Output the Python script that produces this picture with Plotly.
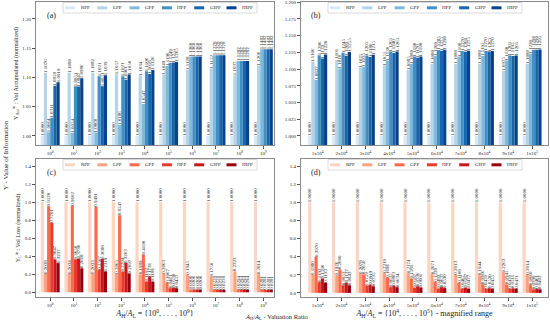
import plotly.graph_objects as go

W, H = 550, 321
FONT = "Liberation Serif"

methods = ["RPP", "LPP", "GPP", "HPP", "GIPP", "HIPP"]
blues = ["#d9e8f5", "#b3d3e8", "#7fb8da", "#4190c5", "#1a64ab", "#08438a"]
reds = ["#fdd4c2", "#fca082", "#fb6b4b", "#ed392b", "#c9181d", "#99000d"]

# tick labels (categories)
cats_full = ["10<sup>0</sup>", "10<sup>1</sup>", "10<sup>2</sup>", "10<sup>3</sup>", "10<sup>4</sup>",
             "10<sup>5</sup>", "10<sup>6</sup>", "10<sup>7</sup>", "10<sup>8</sup>", "10<sup>9</sup>"]
cats_mag = ["1x10<sup>4</sup>", "2x10<sup>4</sup>", "3x10<sup>4</sup>", "4x10<sup>4</sup>", "5x10<sup>4</sup>",
            "6x10<sup>4</sup>", "7x10<sup>4</sup>", "8x10<sup>4</sup>", "9x10<sup>4</sup>", "1x10<sup>5</sup>"]

# (a) accumulated volume, full range
acc_full_RPP = [1.0000, 1.0000, 1.0000, 1.0000, 1.0000, 1.0000, 1.0000, 1.0000, 1.0000, 1.0000]
acc_full_LPP = [1.1076, 1.1080, 1.1082, 1.1057, 1.1034, 1.1049, 1.1128, 1.1152, 1.1037, 1.1206]
acc_full_GPP = [1.0064, 1.0054, 1.0060, 1.0186, 1.0547, 1.1196, 1.1360, 1.1378, 1.1282, 1.1482]
acc_full_HPP = [1.0311, 1.0851, 1.1021, 1.1021, 1.1106, 1.1249, 1.1360, 1.1378, 1.1282, 1.1482]
acc_full_GIPP = [1.0858, 1.0847, 1.0851, 1.0961, 1.1058, 1.1255, 1.1360, 1.1378, 1.1282, 1.1482]
acc_full_HIPP = [1.0919, 1.0986, 1.1039, 1.1050, 1.1126, 1.1265, 1.1360, 1.1378, 1.1282, 1.1482]

# (b) accumulated volume, magnified range
acc_mag_RPP = [1.0000, 1.0000, 1.0000, 1.0000, 1.0000, 1.0000, 1.0000, 1.0000, 1.0000, 1.0000]
acc_mag_LPP = [1.1106, 1.1101, 1.1025, 1.1055, 1.0985, 1.1080, 1.1080, 1.1080, 1.0975, 1.1080]
acc_mag_GPP = [1.0837, 1.1010, 1.1035, 1.1130, 1.1080, 1.1200, 1.1190, 1.1195, 1.1130, 1.1230]
acc_mag_HPP = [1.1206, 1.1245, 1.1205, 1.1265, 1.1190, 1.1285, 1.1270, 1.1270, 1.1205, 1.1290]
acc_mag_GIPP = [1.1159, 1.1200, 1.1180, 1.1240, 1.1170, 1.1275, 1.1260, 1.1265, 1.1195, 1.1290]
acc_mag_HIPP = [1.1220, 1.1255, 1.1215, 1.1265, 1.1190, 1.1290, 1.1275, 1.1270, 1.1205, 1.1295]

# (c) lost volume, full range
loss_full_RPP = [1.0000, 1.0000, 1.0000, 1.0000, 1.0000, 1.0000, 1.0000, 1.0000, 1.0000, 1.0000]
loss_full_LPP = [0.2038, 0.2034, 0.2033, 0.2065, 0.1989, 0.2063, 0.1945, 0.1750, 0.2323, 0.2014]
loss_full_GPP = [0.9520, 0.9602, 0.9491, 0.8547, 0.4190, 0.1067, 0.0306, 0.0278, 0.0294, 0.0281]
loss_full_HPP = [0.7701, 0.3650, 0.2507, 0.2294, 0.1192, 0.0461, 0.0306, 0.0278, 0.0294, 0.0281]
loss_full_GIPP = [0.3647, 0.3736, 0.3688, 0.3263, 0.1736, 0.0530, 0.0306, 0.0278, 0.0294, 0.0281]
loss_full_HIPP = [0.3237, 0.2668, 0.2319, 0.2097, 0.1186, 0.0457, 0.0306, 0.0278, 0.0294, 0.0281]

# (d) lost volume, magnified range
loss_mag_RPP = [1.0000, 1.0000, 1.0000, 1.0000, 1.0000, 1.0000, 1.0000, 1.0000, 1.0000, 1.0000]
loss_mag_LPP = [0.1980, 0.1926, 0.2078, 0.2219, 0.2174, 0.2071, 0.2013, 0.1944, 0.2263, 0.2014]
loss_mag_GPP = [0.3970, 0.2600, 0.2050, 0.1686, 0.1581, 0.1220, 0.1108, 0.0966, 0.0945, 0.0860]
loss_mag_HPP = [0.1192, 0.0853, 0.0759, 0.0635, 0.0587, 0.0483, 0.0467, 0.0450, 0.0450, 0.0398]
loss_mag_GIPP = [0.1596, 0.1137, 0.0919, 0.0803, 0.0736, 0.0637, 0.0587, 0.0530, 0.0511, 0.0461]
loss_mag_HIPP = [0.1133, 0.0843, 0.0735, 0.0634, 0.0601, 0.0530, 0.0477, 0.0455, 0.0471, 0.0402]


def px(x):
    return x / W


def py(y):
    return 1 - y / H


panels = [
    dict(tag="(a)", xa="x", ya="y", cats=cats_full, colors=blues,
         series=[acc_full_RPP, acc_full_LPP, acc_full_GPP, acc_full_HPP, acc_full_GIPP, acc_full_HIPP],
         xd=(36, 274), yd=(2, 145)),
    dict(tag="(b)", xa="x2", ya="y2", cats=cats_mag, colors=blues,
         series=[acc_mag_RPP, acc_mag_LPP, acc_mag_GPP, acc_mag_HPP, acc_mag_GIPP, acc_mag_HIPP],
         xd=(301, 548), yd=(2, 145)),
    dict(tag="(c)", xa="x3", ya="y3", cats=cats_full, colors=reds,
         series=[loss_full_RPP, loss_full_LPP, loss_full_GPP, loss_full_HPP, loss_full_GIPP, loss_full_HIPP],
         xd=(36, 274), yd=(159, 297)),
    dict(tag="(d)", xa="x4", ya="y4", cats=cats_mag, colors=reds,
         series=[loss_mag_RPP, loss_mag_LPP, loss_mag_GPP, loss_mag_HPP, loss_mag_GIPP, loss_mag_HIPP],
         xd=(301, 548), yd=(159, 297)),
]

fig = go.Figure()
shapes = []
annotations = []

for p in panels:
    for m, vals, col in zip(methods, p["series"], p["colors"]):
        fig.add_trace(go.Bar(
            x=p["cats"], y=vals, name=m, xaxis=p["xa"], yaxis=p["ya"],
            marker=dict(color=col, line=dict(width=0)),
            texttemplate="%{y:.4f}", textposition="outside", textangle=-90,
            textfont=dict(size=5, color="#222222", family=FONT),
            constraintext="none", cliponaxis=True, showlegend=False,
        ))
    x0, x1 = p["xd"]
    y0, y1 = p["yd"]
    # legend box drawn inside the top of each panel
    lx = x0 + 27
    shapes.append(dict(type="rect", xref="paper", yref="paper",
                       x0=px(lx), x1=px(lx + 194), y0=py(y0 + 11), y1=py(y0 + 0.5),
                       fillcolor="rgba(255,255,255,0.85)", line=dict(color="#d0d0d0", width=0.8),
                       layer="above"))
    for i, (m, col) in enumerate(zip(methods, p["colors"])):
        sx = x0 + 29 + i * 32.3
        shapes.append(dict(type="rect", xref="paper", yref="paper",
                           x0=px(sx), x1=px(sx + 10), y0=py(y0 + 7.3), y1=py(y0 + 4.3),
                           fillcolor=col, line=dict(width=0), layer="above"))
        annotations.append(dict(text=m, xref="paper", yref="paper", x=px(sx + 13.5), y=py(y0 + 5.8),
                                xanchor="left", yanchor="middle", showarrow=False,
                                font=dict(size=5, family=FONT, color="#222222")))
    annotations.append(dict(text=p["tag"], xref="paper", yref="paper", x=px(x0 + 15), y=py(y0 + 13.5),
                            xanchor="center", yanchor="middle", showarrow=False,
                            font=dict(size=8, family=FONT, color="#222222")))

axis_common = dict(showline=True, mirror=True, linecolor="#8a8a8a", linewidth=1,
                   ticks="outside", ticklen=3, tickcolor="#555555", tickwidth=0.8,
                   showgrid=False, zeroline=False, automargin=False,
                   tickfont=dict(size=5, family=FONT, color="#222222"))

lay = dict(
    width=W, height=H, margin=dict(l=0, r=0, t=0, b=0),
    paper_bgcolor="white", plot_bgcolor="white",
    barmode="group", bargap=0.2, bargroupgap=0.0,
    font=dict(family=FONT, color="#222222"),
    showlegend=False,
)

yt = dict(font=dict(size=6, family=FONT, color="#222222"), standoff=3)
xt = dict(font=dict(size=8, family=FONT, color="#222222"), standoff=3)

lay["xaxis"] = dict(axis_common, domain=[px(36), px(274)], anchor="y", type="category", range=[-0.6, 9.45])
lay["yaxis"] = dict(axis_common, domain=[py(145), py(2)], anchor="x", range=[0.9846, 1.229],
                    tick0=1.0, dtick=0.05, tickformat=".2f",
                    title=dict(yt, text="Y<sub>Acc</sub><sup>in</sup> : Vol Accumulated (normalized)"))
lay["xaxis2"] = dict(axis_common, domain=[px(301), px(548)], anchor="y2", type="category", range=[-0.7, 9.67])
lay["yaxis2"] = dict(axis_common, domain=[py(145), py(2)], anchor="x2", range=[0.9865, 1.2004],
                     tick0=1.0, dtick=0.025, tickformat=".3f")
lay["xaxis3"] = dict(axis_common, domain=[px(36), px(274)], anchor="y3", type="category", range=[-0.6, 9.45],
                     title=dict(xt, text="<i>A</i><sub>H</sub>/<i>A</i><sub>L</sub> = {10<sup>0</sup>, . . . , 10<sup>9</sup>}"))
lay["yaxis3"] = dict(axis_common, domain=[py(297), py(159)], anchor="x3", range=[-0.052, 1.478],
                     tick0=0, dtick=0.2, tickformat=".1f",
                     title=dict(yt, text="Y<sub>L</sub><sup>in</sup> : Vol Loss (normalized)"))
lay["xaxis4"] = dict(axis_common, domain=[px(301), px(548)], anchor="y4", type="category", range=[-0.7, 9.67],
                     title=dict(xt, text="<i>A</i><sub>H</sub>/<i>A</i><sub>L</sub> = {10<sup>4</sup>, . . . , 10<sup>5</sup>} - magnified range"))
lay["yaxis4"] = dict(axis_common, domain=[py(297), py(159)], anchor="x4", range=[-0.045, 1.478],
                     tick0=0, dtick=0.2, tickformat=".1f")

annotations.append(dict(text="Y - Value of Information", xref="paper", yref="paper",
                        x=px(6), y=py(155), textangle=-90, showarrow=False,
                        xanchor="center", yanchor="middle",
                        font=dict(size=7, family=FONT, color="#222222")))
annotations.append(dict(text="<i>A</i><sub>H</sub>/<i>A</i><sub>L</sub> - Valuation Ratio", xref="paper", yref="paper",
                        x=px(276), y=py(316.5), showarrow=False, xanchor="center", yanchor="middle",
                        font=dict(size=6.5, family=FONT, color="#222222")))

lay["shapes"] = shapes
lay["annotations"] = annotations
fig.update_layout(**lay)
fig.write_html("out.html", config={"displayModeBar": False},
               post_script="document.body.style.margin='0';document.body.style.padding='0';"
                           "document.body.style.overflow='hidden';")
